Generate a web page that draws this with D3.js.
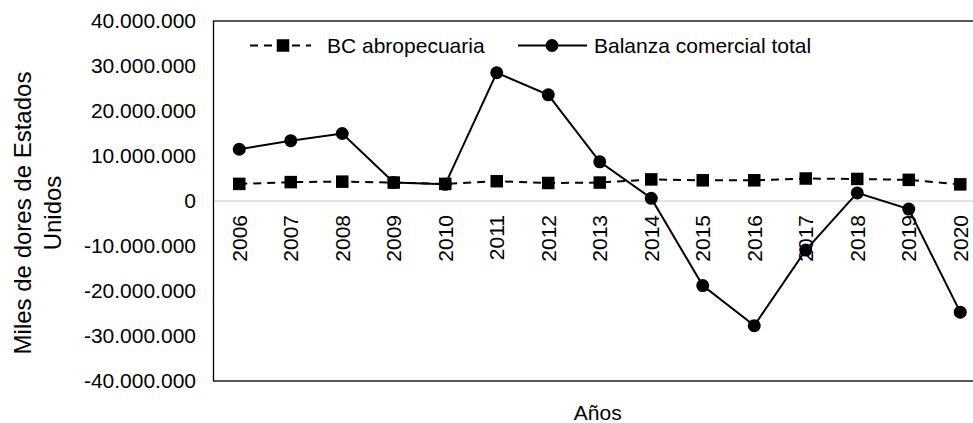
<!DOCTYPE html>
<html>
<head>
<meta charset="utf-8">
<script src="https://cdn.jsdelivr.net/npm/d3@7"></script>
<style>
  html, body { margin: 0; padding: 0; background: #fff; overflow: hidden; }
  svg { display: block; }
  text { font-family: "Liberation Sans", Arial, sans-serif; fill: #000; }
</style>
</head>
<body>
<svg id="chart" width="973" height="423"></svg>
<script>
// ---- Data ----
const years = ["2006","2007","2008","2009","2010","2011","2012","2013","2014","2015","2016","2017","2018","2019","2020"];
const bcAgro = [3800000, 4200000, 4300000, 4100000, 3800000, 4400000, 4000000, 4100000, 4800000, 4600000, 4600000, 5000000, 4900000, 4700000, 3700000];
const bcTotal = [11500000, 13400000, 15000000, 4100000, 3700000, 28500000, 23600000, 8700000, 600000, -18800000, -27700000, -10900000, 1800000, -1800000, -24700000];
const yTicks = [40000000, 30000000, 20000000, 10000000, 0, -10000000, -20000000, -30000000, -40000000];
const seriesNames = ["BC abropecuaria", "Balanza comercial total"];
const yTitleLines = ["Miles de dores de Estados", "Unidos"];
const xTitle = "Años";

// ---- Layout ----
const svg = d3.select("#chart");
const plot = { left: 213.5, right: 986, top: 21, bottom: 381 };
const FS = 21;

const x = d3.scaleBand().domain(years).range([plot.left, plot.right]).padding(0);
const y = d3.scaleLinear().domain([-40000000, 40000000]).range([plot.bottom, plot.top]);
const cx = d => x(d) + x.bandwidth() / 2;

const fmt = v => {
  if (v === 0) return "0";
  const s = d3.format(",")(Math.abs(v)).replace(/,/g, ".");
  return (v < 0 ? "-" : "") + s;
};

// Frame (left, top, bottom; right edge is off-canvas)
svg.append("rect")
  .attr("x", plot.left).attr("y", plot.top)
  .attr("width", plot.right - plot.left).attr("height", plot.bottom - plot.top)
  .attr("fill", "none").attr("stroke", "#000").attr("stroke-width", 1.3);

// Zero line
svg.append("line")
  .attr("x1", plot.left + 1).attr("x2", plot.right)
  .attr("y1", y(0)).attr("y2", y(0))
  .attr("stroke", "#d9d9d9").attr("stroke-width", 1.5);

// Y axis tick labels
svg.append("g").selectAll("text").data(yTicks).join("text")
  .attr("x", 196).attr("y", d => y(d)).attr("dy", "0.35em")
  .attr("text-anchor", "end").attr("font-size", FS)
  .text(d => fmt(d));

// X labels (rotated, positioned at zero line)
svg.append("g").selectAll("text").data(years).join("text")
  .attr("transform", d => `translate(${cx(d)},${y(0) + 14}) rotate(-90)`)
  .attr("text-anchor", "end").attr("dy", "0.35em").attr("font-size", FS)
  .text(d => d);

// Y axis title (two lines, rotated)
const yt = svg.append("text")
  .attr("transform", "translate(23,213) rotate(-90)")
  .attr("text-anchor", "middle").attr("font-size", 24);
yTitleLines.forEach((t, i) => {
  yt.append("tspan").attr("x", 0).attr("dy", i === 0 ? "0.35em" : "1.25em").text(t);
});

// X axis title
svg.append("text")
  .attr("x", (plot.left + plot.right) / 2 - 2).attr("y", 420)
  .attr("text-anchor", "middle").attr("font-size", FS)
  .text(xTitle);

// Series: BC abropecuaria (dashed, squares)
const line = d3.line().x((d, i) => cx(years[i])).y(d => y(d));
svg.append("path").datum(bcAgro)
  .attr("d", line).attr("fill", "none").attr("stroke", "#000")
  .attr("stroke-width", 2).attr("stroke-dasharray", "8,6");
const sq = 12.5;
svg.append("g").selectAll("rect").data(bcAgro).join("rect")
  .attr("x", (d, i) => cx(years[i]) - sq / 2).attr("y", d => y(d) - sq / 2)
  .attr("width", sq).attr("height", sq).attr("fill", "#000");

// Series: Balanza comercial total (solid, circles)
svg.append("path").datum(bcTotal)
  .attr("d", line).attr("fill", "none").attr("stroke", "#000")
  .attr("stroke-width", 2);
svg.append("g").selectAll("circle").data(bcTotal).join("circle")
  .attr("cx", (d, i) => cx(years[i])).attr("cy", d => y(d))
  .attr("r", 6.5).attr("fill", "#000");

// Legend
const ly = 45.5;
const lg = svg.append("g");
lg.append("line").attr("x1", 250).attr("x2", 311).attr("y1", ly).attr("y2", ly)
  .attr("stroke", "#000").attr("stroke-width", 2).attr("stroke-dasharray", "8,6");
lg.append("rect").attr("x", 283 - sq / 2).attr("y", ly - sq / 2)
  .attr("width", sq).attr("height", sq).attr("fill", "#000");
lg.append("text").attr("x", 327).attr("y", ly).attr("dy", "0.35em")
  .attr("font-size", FS).text(seriesNames[0]);
lg.append("line").attr("x1", 518).attr("x2", 587).attr("y1", ly).attr("y2", ly)
  .attr("stroke", "#000").attr("stroke-width", 2);
lg.append("circle").attr("cx", 552).attr("cy", ly).attr("r", 6.5).attr("fill", "#000");
lg.append("text").attr("x", 594).attr("y", ly).attr("dy", "0.35em")
  .attr("font-size", FS).text(seriesNames[1]);
</script>
</body>
</html>
